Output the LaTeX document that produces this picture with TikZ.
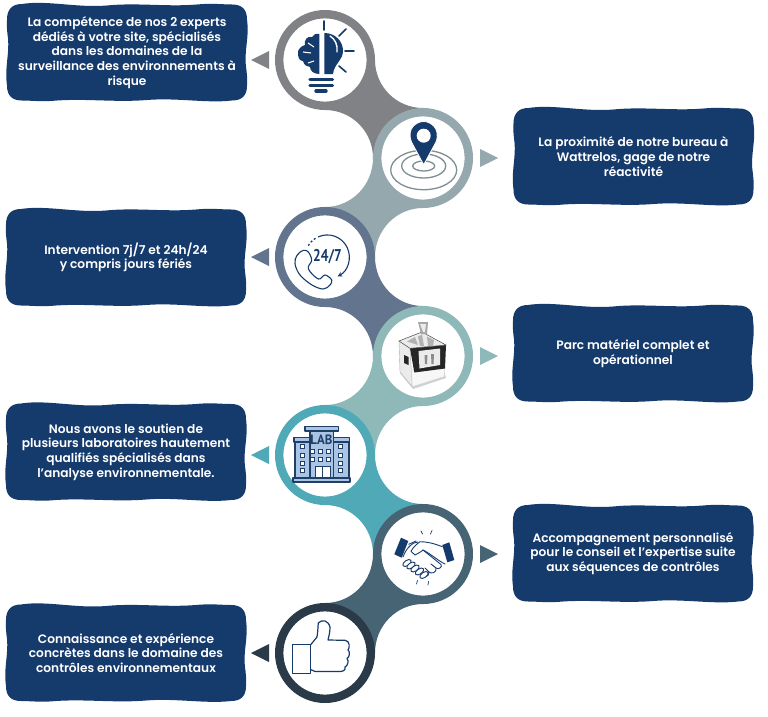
\documentclass[tikz,border=0pt]{standalone}
\usepackage{fontspec}
\setmainfont{Poppins SemiBold}
\newfontfamily\iconfont{PT Sans}
\usetikzlibrary{arrows,calc,backgrounds}
\definecolor{navy}{HTML}{153A6C}
\definecolor{cola}{HTML}{808285}
\definecolor{colb}{HTML}{94A8AE}
\definecolor{colc}{HTML}{63748E}
\definecolor{cold}{HTML}{8FB9B9}
\definecolor{cole}{HTML}{4FA9B7}
\definecolor{colf}{HTML}{476475}
\definecolor{colg}{HTML}{2B3A48}
\definecolor{labblue}{HTML}{A9C4E4}
\definecolor{labline}{HTML}{1F3F66}
\tikzset{
  ring/.style={circle,draw=#1,line width=8.4,fill=white,minimum size=91.6,inner sep=0},
  infobox/.style={text=white,minimum width=240,minimum height=97,inner sep=0,align=center,
    font=\fontsize{12.2}{14.6}\selectfont},
  iconline/.style={draw=navy,line width=1.1,line cap=round,line join=round},
  labshape/.style={fill=labblue,draw=labline,line width=1.1,line join=round},
  labwindow/.style={fill=white,draw=labline,line width=0.9}
}
\newcommand{\bandright}[3]{\fill[#3] (#1.south) to[out=0,in=90] (#2.west) -- (#2.north) to[out=180,in=270] (#1.east) -- cycle;}
\newcommand{\bandleft}[3]{\fill[#3] (#1.south) to[out=180,in=90] (#2.east) -- (#2.north) to[out=0,in=270] (#1.west) -- cycle;}
\newcommand{\tipleft}[2]{\fill[#2] ($(#1.west)+(-6,9)$) -- ++(-18,-9) -- ++(18,-9) -- cycle;}
\newcommand{\tipright}[2]{\fill[#2] ($(#1.east)+(7,9)$) -- ++(18,-9) -- ++(-18,-9) -- cycle;}
\newcommand{\wavybox}[1]{\fill[navy,shift={(#1)}] (-105,48.5) .. controls (-80,52.5) and (-50,44.5) .. (-20,47) .. controls (10,50) and (40,45.5) .. (70,48) .. controls (85,49.5) and (95,48) .. (105,48)
  .. controls (115,48) and (120,43) .. (120,33) .. controls (122.5,15) and (117,2) .. (119,-14) .. controls (120,-22) and (120.5,-27) .. (120,-33)
  .. controls (120,-43) and (115,-48) .. (105,-48) .. controls (80,-51) and (50,-45) .. (20,-47.5) .. controls (-10,-50) and (-40,-46) .. (-70,-48) .. controls (-85,-49.5) and (-95,-48) .. (-105,-48)
  .. controls (-115,-48) and (-120,-43) .. (-120,-33) .. controls (-122.5,-15) and (-117.5,-2) .. (-119,14) .. controls (-120,22) and (-120.5,27) .. (-120,33)
  .. controls (-120,43) and (-115,48.5) .. (-105,48.5) -- cycle;}
\begin{document}
\begin{tikzpicture}[x=1pt,y=1pt]
\useasboundingbox (0,0) rectangle (768,-717);

\node[ring=cola] (ringa) at (325,-60) {};
\node[ring=colb] (ringb) at (423,-158) {};
\node[ring=colc] (ringc) at (325,-257) {};
\node[ring=cold] (ringd) at (423,-356) {};
\node[ring=cole] (ringe) at (325,-455) {};
\node[ring=colf] (ringf) at (423,-554) {};
\node[ring=colg] (ringg) at (325,-653) {};

\tipleft{ringa}{cola}
\tipright{ringb}{colb}
\tipleft{ringc}{colc}
\tipright{ringd}{cold}
\tipleft{ringe}{cole}
\tipright{ringf}{colf}
\tipleft{ringg}{colg}

\node[infobox] (boxa) at (127,-52.5) {La compétence de nos 2 experts\\dédiés à votre site, spécialisés\\dans les domaines de la\\surveillance des environnements à\\risque};
\node[infobox] (boxb) at (633.5,-156.5) {La proximité de notre bureau à\\Wattrelos, gage de notre\\réactivité};
\node[infobox] (boxc) at (126,-257.5) {Intervention 7j/7 et 24h/24\\y compris jours fériés};
\node[infobox] (boxd) at (633,-353.5) {Parc matériel complet et\\opérationnel};
\node[infobox] (boxe) at (126,-452) {Nous avons le soutien de\\plusieurs laboratoires hautement\\qualifiés spécialisés dans\\l'analyse environnementale.};
\node[infobox] (boxf) at (633,-553.5) {Accompagnement personnalisé\\pour le conseil et l'expertise suite\\aux séquences de contrôles};
\node[infobox] (boxg) at (126,-653) {Connaissance et expérience\\concrètes dans le domaine des\\contrôles environnementaux};

\begin{scope}[on background layer]
\fill[white] (0,0) rectangle (768,-717);
\bandright{ringa}{ringb}{cola}
\bandleft{ringb}{ringc}{colb}
\bandright{ringc}{ringd}{colc}
\bandleft{ringd}{ringe}{cold}
\bandright{ringe}{ringf}{cole}
\bandleft{ringf}{ringg}{colf}
\foreach \name in {boxa,boxb,boxc,boxd,boxe,boxf,boxg} {\wavybox{\name}}
\end{scope}

% bulb
\begin{scope}[shift={(ringa)}]
\draw[iconline,line width=1.6] (-1,39) -- (-1,30) (21,31) -- (14,24) (20,9) -- (29,9) (14,-6) -- (21,-12);
\fill[navy] (-5.7,26) .. controls (-9,27) and (-12,25) .. (-13,23) .. controls (-18,24) and (-21,20) .. (-20,15)
  .. controls (-24,14) and (-28,10) .. (-27,6) .. controls (-27,2) and (-25,-1) .. (-22,-1)
  .. controls (-21,-5) and (-18,-7) .. (-15,-7) .. controls (-15,-11) and (-11,-14) .. (-5.7,-14) -- cycle;
\fill[navy] (-0.7,27) .. controls (10,27) and (18,19) .. (18,9) .. controls (18,0) and (9,-4) .. (8,-14) -- (-0.7,-14) -- cycle;
\draw[white,line width=1.4,line cap=round] (5,24) .. controls (10,21) and (13,15) .. (12,8);
\draw[white,line width=1.1] (-22,8) -- (-14,7) (-17,17) -- (-11,13) (-17,-3) -- (-11,-1);
\draw[navy,line width=3.4,line cap=round] (-15,-19.5) -- (7.5,-19.5) (-15,-25.5) -- (7.5,-25.5) (-9,-31) -- (1,-31);
\end{scope}

% pin and target
\begin{scope}[shift={(ringb)}]
\draw[colb!85!black,line width=1.3] (0.7,-12) ellipse (33 and 19.7) (0.7,-8) ellipse (22 and 12) (0.7,-8) ellipse (11 and 5);
\fill[navy,draw=white,line width=0.8] (0.7,-6.7) -- (-11.5,16) .. controls (-17,30) and (-6,36.5) .. (0.7,36.5) .. controls (7,36.5) and (18,30) .. (13,16) -- cycle;
\fill[white] (0.7,22.3) circle (7);
\end{scope}

% phone
\begin{scope}[shift={(ringc)}]
\draw[iconline] plot[smooth cycle,tension=0.6] coordinates {(-21.7,6.7) (-28,1.7) (-30,-6.7) (-25,-18) (-13,-28) (-1.7,-32) (5,-28) (6.7,-23) (0,-18) (-6.7,-22) (-16.7,-11.7) (-13.3,-3.3) (-16.7,5)};
\draw[navy,line width=1.1,-stealth] (-7,20) arc[start angle=115,end angle=-62,radius=22];
\draw[navy,line width=1.3,dash pattern=on 2 off 2.2] (-9.5,18.7) arc[start angle=122,end angle=152,radius=22];
\node[text=navy,xscale=0.8,inner sep=0,font=\iconfont\bfseries\fontsize{17}{16}\selectfont] (phonetext) at (2.5,0) {24/7};
\end{scope}

% machine
\begin{scope}[shift={(ringd)}]
\fill[black!18] (-23,-17) -- (-10,-33) -- (23,-22) -- (21,-14) -- cycle;
\fill[black!8,draw=black!30,line width=0.4] (-24,15) -- (-13,7.7) -- (-10.7,-30.7) -- (-23,-16) -- cycle;
\fill[black!3,draw=black!20,line width=0.3] (-11.5,-14) -- (22,-11) -- (21,-20.7) -- (-10.7,-30.7) -- cycle;
\fill[black!85] (-19,1) -- (-14.5,-1) -- (-14.5,-9) -- (-19,-7) -- cycle;
\fill[black!85] (-13,7.7) -- (23,11) -- (22,-12.5) -- (-8.7,-16.5) -- cycle;
\fill[black!8] (-4.5,5) -- (17,7.5) -- (17,-9) -- (-3.5,-12.5) -- cycle;
\fill[black!45] (1.5,1) -- (4.5,1) -- (4,-8) -- (2,-8) -- cycle (8,2) -- (11,2) -- (10.5,-8) -- (8.5,-8) -- cycle;
\fill[black!8,draw=black!70,line width=0.5] (-24,15) -- (-1,24) -- (23,11) -- (-13,7.7) -- cycle;
\fill[black!30] (-16,14.5) -- (-8,19) -- (-5,11) -- cycle (-5,19.5) -- (-1,21.5) -- (1,10) -- (-3,10) -- cycle (4,19.5) -- (11,16) -- (10,10) -- (5,10) -- cycle;
\fill[black!35] (-5,34) -- (5,34) -- (4,22) -- (-2,22) -- cycle;
\fill[black!8] (-3,32) -- (3,32) -- (2,24) -- (0,24) -- cycle;
\end{scope}

% lab building
\begin{scope}[shift={(ringe)}]
\path[labshape] (-15,-24) rectangle (8.5,24);
\path[labshape] (-20,24) rectangle (13.5,28.5);
\path[labshape] (-30,-24) rectangle (-15,13);
\path[labshape] (8.5,-24) rectangle (24,13);
\path[labshape] (-31,13) rectangle (-15,17.5);
\path[labshape] (8.5,13) rectangle (24.5,17.5);
\fill[white,draw=labline,line width=0.9] (-10,-23) rectangle (5,-11);
\draw[labline,line width=0.9] (-2.5,-23) -- (-2.5,-11);
\path[labshape] (-32,-23) rectangle (25,-27);
\foreach \wx in {-12.7,-4.3,3.7}
  \foreach \wy in {4,-4.5}
    \path[labwindow] (\wx-2,\wy-2) rectangle (\wx+2,\wy+2);
\foreach \wx in {-22.5,15}
  \foreach \wy in {9,0,-8.5,-15.5}
    \path[labwindow] (\wx-2,\wy-2) rectangle (\wx+2,\wy+2);
\node[text=labline,inner sep=0,xscale=0.95,font=\iconfont\bfseries\fontsize{13.5}{13}\selectfont] (labtext) at (-3.5,15.5) {LAB};
\end{scope}

% handshake
\begin{scope}[shift={(ringf)}]
\fill[navy] (-22,16.3) -- (-14.7,13) -- (-21.3,-3.7) -- (-28.7,-0.3) -- cycle;
\fill[navy] (19.3,9) -- (26.3,11.7) -- (31.3,-6) -- (24.3,-8.3) -- cycle;
\draw[iconline,line width=0.9] (-14.3,9.7) -- (-7,13) (19.3,7.3) .. controls (10,11) and (3,12.3) .. (-3,12.3) .. controls (-10,7) and (-10,6) .. (-12,2.7) -- (-8,-1) .. controls (-4,1) and (-1,3) .. (0,4) .. controls (8,0) and (14,-6) .. (22,-10);
\draw[iconline,line width=0.9] (-5,12) .. controls (-9,12) and (-16,8) .. (-20,-3);
\draw[iconline,line width=0.9] (0,4) -- (18,-10.5) .. controls (20,-13) and (15,-16) .. (13,-14) -- (8,-10);
\draw[iconline,line width=0.9] (13,-14) .. controls (14,-19) and (8,-20) .. (6,-18) -- (2,-14);
\draw[iconline,line width=0.9] (6,-18) .. controls (6,-23) and (1,-24) .. (-1,-22) -- (-3,-19);
\foreach \hx/\hy in {-16/-9,-12/-11.5,-8/-14.5,-3.5/-17.5,1/-21}
  \draw[iconline,line width=0.9,fill=white,rotate around={35:(\hx,\hy)}] (\hx,\hy) ellipse (4.8 and 2.6);
\draw[iconline,line width=0.7] (-2,23) -- (-0.5,20) (9,23.5) -- (7.5,20) (-6.5,-30) -- (-5.5,-26.5) (5,-31) -- (5.5,-27.5);
\end{scope}

% thumb
\begin{scope}[shift={(ringg)}]
\draw[iconline,line width=1.2] (-32.7,8.3) rectangle (-14.3,-20.7);
\draw[iconline,line width=1.2] (-14.3,8.3) -- (-8,16) .. controls (-7,22) and (-7,28) .. (-6.7,30) .. controls (-3,34) and (3,33) .. (5,26) .. controls (5,20) and (4,18) .. (3,13)
  -- (20,12.7) .. controls (25,12.5) and (25,5) .. (23,3) .. controls (25,2) and (25,-4) .. (22,-5.5) .. controls (24,-7) and (23,-13) .. (20,-14)
  .. controls (21,-17) and (18,-18.5) .. (15,-18.5) -- (-10,-18.5) -- (-14.3,-16.5);
\end{scope}
\end{tikzpicture}
\end{document}
